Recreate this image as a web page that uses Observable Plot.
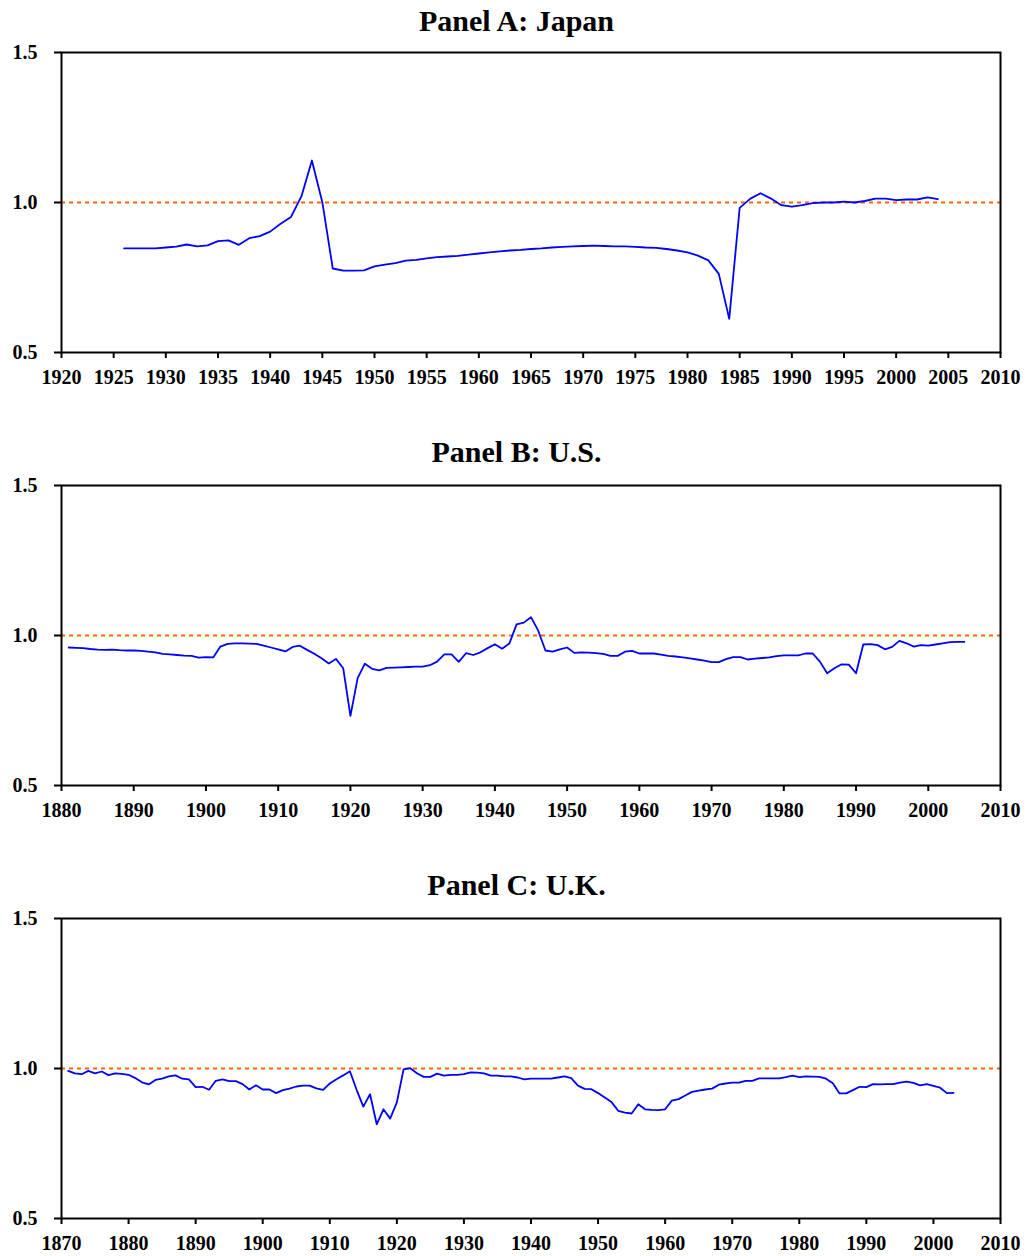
<!DOCTYPE html>
<html>
<head>
<meta charset="utf-8">
<script src="https://cdn.jsdelivr.net/npm/d3@7"></script>
<script src="https://cdn.jsdelivr.net/npm/@observablehq/plot@0.6"></script>
<style>
  html, body { margin: 0; padding: 0; background: #fff; }
  #root { position: relative; width: 1029px; height: 1256px; }
  .title { position: absolute; left: 2px; width: 1029px; text-align: center;
           font-family: "Liberation Serif", "Times New Roman", serif; font-weight: bold;
           font-size: 30px; line-height: 34px; color: #000; }
  .panel { position: absolute; left: 0; }
</style>
</head>
<body>
<div id="root"></div>
<script>
// ---- Data ----
const titles = ["Panel A: Japan", "Panel B: U.S.", "Panel C: U.K."];

const japanYears = d3.range(1926, 2005);
const japanValues = [
  0.847, 0.847, 0.847, 0.847, 0.850, 0.853, 0.860, 0.854, 0.857, 0.871,
  0.874, 0.859, 0.881, 0.888, 0.903, 0.929, 0.952, 1.021, 1.140, 1.001,
  0.780, 0.773, 0.773, 0.774, 0.787, 0.793, 0.798, 0.806, 0.809, 0.814,
  0.818, 0.820, 0.822, 0.826, 0.830, 0.834, 0.837, 0.840, 0.842, 0.845,
  0.847, 0.850, 0.852, 0.854, 0.855, 0.856, 0.855, 0.854, 0.854, 0.852,
  0.850, 0.849, 0.845, 0.840, 0.834, 0.823, 0.807, 0.762, 0.612, 0.982,
  1.012, 1.031, 1.013, 0.991, 0.986, 0.991, 0.998, 1.000, 1.000, 1.003,
  1.000, 1.005, 1.013, 1.013, 1.008, 1.010, 1.010, 1.017, 1.011
];

const usYears = d3.range(1881, 2006);
const usValues = [
  0.960, 0.959, 0.958, 0.955, 0.953, 0.952, 0.953, 0.951, 0.950, 0.950,
  0.949, 0.946, 0.944, 0.939, 0.937, 0.935, 0.933, 0.932, 0.926, 0.928,
  0.927, 0.963, 0.972, 0.974, 0.974, 0.973, 0.972, 0.966, 0.960, 0.954,
  0.947, 0.962, 0.966, 0.952, 0.939, 0.924, 0.907, 0.922, 0.891, 0.732,
  0.858, 0.906, 0.889, 0.884, 0.892, 0.893, 0.894, 0.895, 0.896, 0.896,
  0.901, 0.913, 0.937, 0.937, 0.912, 0.941, 0.935, 0.944, 0.958, 0.971,
  0.956, 0.973, 1.037, 1.043, 1.061, 1.016, 0.950, 0.946, 0.954, 0.960,
  0.942, 0.944, 0.943, 0.941, 0.939, 0.932, 0.932, 0.946, 0.949, 0.940,
  0.940, 0.940, 0.936, 0.932, 0.930, 0.927, 0.924, 0.920, 0.916, 0.911,
  0.911, 0.921, 0.928, 0.928, 0.920, 0.923, 0.925, 0.927, 0.931, 0.934,
  0.934, 0.934, 0.940, 0.940, 0.913, 0.874, 0.891, 0.904, 0.903, 0.874,
  0.970, 0.971, 0.968, 0.954, 0.962, 0.982, 0.974, 0.963, 0.968, 0.966,
  0.970, 0.974, 0.978, 0.979, 0.979
];

const ukYears = d3.range(1871, 2004);
const ukValues = [
  0.992, 0.984, 0.981, 0.992, 0.984, 0.990, 0.978, 0.984, 0.982, 0.979,
  0.968, 0.954, 0.947, 0.962, 0.966, 0.974, 0.977, 0.966, 0.964, 0.938,
  0.939, 0.929, 0.959, 0.964, 0.958, 0.958, 0.948, 0.930, 0.944, 0.930,
  0.930, 0.918, 0.928, 0.933, 0.940, 0.943, 0.943, 0.934, 0.929, 0.950,
  0.964, 0.977, 0.991, 0.929, 0.873, 0.914, 0.814, 0.864, 0.833, 0.887,
  0.997, 1.001, 0.984, 0.972, 0.972, 0.983, 0.976, 0.979, 0.979, 0.981,
  0.987, 0.986, 0.984, 0.976, 0.976, 0.974, 0.974, 0.970, 0.964, 0.966,
  0.966, 0.966, 0.966, 0.970, 0.974, 0.968, 0.943, 0.932, 0.931, 0.918,
  0.903, 0.888, 0.859, 0.853, 0.850, 0.881, 0.864, 0.862, 0.861, 0.864,
  0.893, 0.898, 0.910, 0.922, 0.926, 0.930, 0.933, 0.946, 0.950, 0.953,
  0.953, 0.959, 0.959, 0.967, 0.967, 0.967, 0.967, 0.971, 0.976, 0.971,
  0.974, 0.973, 0.972, 0.966, 0.951, 0.917, 0.917, 0.928, 0.939, 0.938,
  0.948, 0.947, 0.948, 0.948, 0.953, 0.956, 0.952, 0.944, 0.948, 0.942,
  0.936, 0.918, 0.919
];

const japanTicks = d3.range(1920, 2011, 5);
const usTicks = d3.range(1880, 2011, 10);
const ukTicks = d3.range(1870, 2011, 10);
const yTicks = [0.5, 1.0, 1.5];
const referenceLevel = [1.0];

const panels = [
  {title: titles[0], years: japanYears, values: japanValues, domain: [1920, 2010], ticks: japanTicks, top: 40, titleTop: 4},
  {title: titles[1], years: usYears, values: usValues, domain: [1880, 2010], ticks: usTicks, top: 473, titleTop: 435},
  {title: titles[2], years: ukYears, values: ukValues, domain: [1870, 2010], ticks: ukTicks, top: 906, titleTop: 868}
];

const root = document.getElementById("root");
const font = {fontFamily: "'Liberation Serif', 'Times New Roman', serif", fontSize: "20px", fontWeight: "bold", background: "#fff", color: "#000"};

for (const p of panels) {
  const t = document.createElement("div");
  t.className = "title";
  t.style.top = p.titleTop + "px";
  t.textContent = p.title;
  root.appendChild(t);

  const data = p.years.map((y, i) => ({year: y, value: p.values[i]}));
  const chart = Plot.plot({
    width: 1029,
    height: 350,
    marginTop: 12,
    marginBottom: 38,
    marginLeft: 61,
    marginRight: 29,
    style: font,
    x: {domain: p.domain, ticks: p.ticks},
    y: {domain: [0.5, 1.5], ticks: yTicks},
    marks: [
      Plot.ruleY(referenceLevel, {stroke: "#ff6600", strokeWidth: 2, strokeDasharray: "4,4"}),
      Plot.line(data, {x: "year", y: "value", stroke: "#0000ff", strokeWidth: 1.8}),
      Plot.frame({stroke: "#000", strokeWidth: 2}),
      Plot.axisX({ticks: p.ticks, tickFormat: d => String(d), tickSize: 6, tickPadding: 11, strokeWidth: 2, label: null, fontSize: 20, fontWeight: "bold"}),
      Plot.axisY({ticks: yTicks, tickFormat: d => d.toFixed(1), tickSize: 7, tickPadding: 17, strokeWidth: 2, label: null, fontSize: 20, fontWeight: "bold"})
    ]
  });
  chart.classList.add("panel");
  chart.style.position = "absolute";
  chart.style.top = p.top + "px";
  chart.style.left = "0px";
  root.appendChild(chart);
}
</script>
</body>
</html>
